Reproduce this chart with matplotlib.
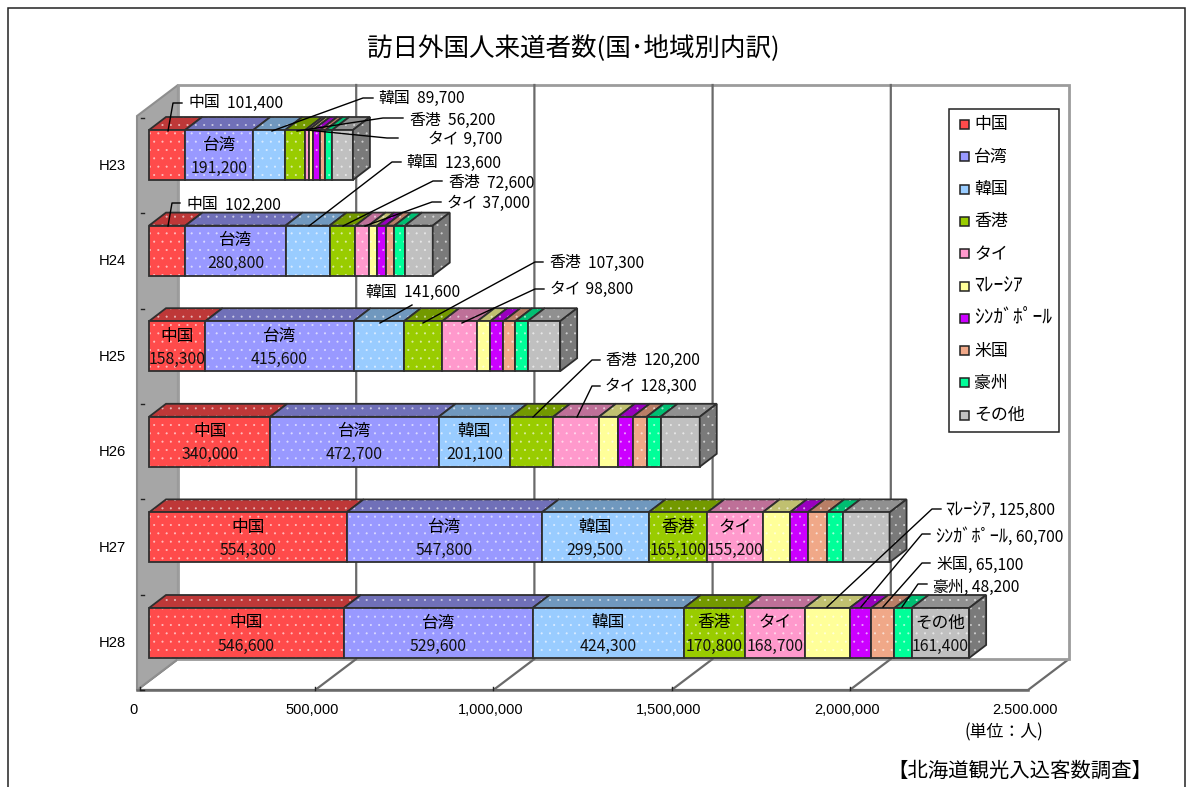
import matplotlib
matplotlib.use("Agg")
import matplotlib.pyplot as plt
from matplotlib.patches import Polygon, Rectangle

plt.rcParams["font.family"] = ["Noto Sans CJK JP", "DejaVu Sans"]
plt.rcParams["hatch.linewidth"] = 0.25

YEARS = ["H23", "H24", "H25", "H26", "H27", "H28"]
NAMES = ["中国", "台湾", "韓国", "香港", "タイ", "ﾏﾚｰｼｱ", "ｼﾝｶﾞﾎﾟｰﾙ", "米国", "豪州", "その他"]

china = [101400, 102200, 158300, 340000, 554300, 546600]
taiwan = [191200, 280800, 415600, 472700, 547800, 529600]
korea = [89700, 123600, 141600, 201100, 299500, 424300]
hongkong = [56200, 72600, 107300, 120200, 165100, 170800]
thailand = [9700, 37000, 98800, 128300, 155200, 168700]
malaysia = [12000, 24000, 36000, 53000, 76000, 125800]
singapore = [20000, 24000, 37000, 42000, 50000, 60700]
usa = [15000, 24000, 33000, 39000, 55000, 65100]
australia = [19000, 30000, 35000, 39000, 45000, 48200]
others = [58000, 78000, 91000, 110000, 130000, 161400]
SERIES = [china, taiwan, korea, hongkong, thailand, malaysia, singapore, usa, australia, others]

XTICKS = [0, 500000, 1000000, 1500000, 2000000, 2500000]
XTICK_LABELS = ["0", "500,000", "1,000,000", "1,500,000", "2,000,000", "2.500.000"]

FACE = ["#FF4B4B", "#9999FF", "#99CCFF", "#99CC00", "#FF99CC",
        "#FFFF99", "#CC00FF", "#F0A888", "#00FF99", "#C0C0C0"]
TOP = ["#BE3838", "#7070B8", "#7098BE", "#739900", "#BE7098",
       "#C0C070", "#9900BE", "#B87E66", "#00BE72", "#909090"]
SIDE = "#7A7A7A"
EDGE = "#2E2E2E"
WALL = "#A6A6A6"
GRID = "#6A6A6A"

# which series are labelled inside the bar, per year
IN_BAR = [[1], [1], [0, 1], [0, 1, 2], [0, 1, 2, 3, 4], [0, 1, 2, 3, 4, 9]]

# year, series, label x, label y, leader line points (all pixels)
CALLOUTS = [
    (0, 0, 188, 103, [(168, 131), (173, 103), (182, 103)]),
    (0, 2, 378, 98, [(272, 131), (363, 98), (373, 98)]),
    (0, 3, 409, 120, [(297, 131), (383, 118), (403, 118)]),
    (0, 4, 428, 139, [(307, 130), (387, 138), (398, 138)]),
    (1, 0, 186, 205, [(168, 226), (172, 203), (180, 203)]),
    (1, 2, 406, 163, [(309, 226), (392, 162), (401, 162)]),
    (1, 3, 448, 183, [(343, 226), (433, 181), (442, 181)]),
    (1, 4, 447, 203, [(365, 226), (432, 202), (441, 202)]),
    (2, 2, 365, 292, [(380, 323), (412, 305)]),
    (2, 3, 549, 263, [(423, 323), (535, 262), (543, 262)]),
    (2, 4, 550, 289, [(462, 323), (535, 289), (544, 289)]),
    (3, 3, 605, 360, [(533, 417), (592, 360), (600, 360)]),
    (3, 4, 605, 386, [(577, 417), (592, 386), (600, 386)]),
    (5, 5, 945, 510, [(827, 607), (932, 509), (941, 509)]),
    (5, 6, 935, 537, [(861, 607), (922, 534), (930, 534)]),
    (5, 7, 936, 565, [(883, 607), (922, 563), (930, 563)]),
    (5, 8, 932, 587, [(902, 607), (918, 584), (927, 584)]),
]

W, H = 1193, 787
X0 = 137                 # pixel of value 0 on the front of the floor
K = 178.2 / 500000       # pixels per person
DEPTH_X, DEPTH_Y = 41, 31
BAR_DX, BAR_DY = 17, 13
BAR_H = 50
ROW_TOP0, ROW_STEP = 130, 95.6

fig = plt.figure(figsize=(W / 100, H / 100), dpi=100)
ax = fig.add_axes([0, 0, 1, 1])
ax.set_xlim(-X0 / K, (W - X0) / K)
ax.set_ylim(H, 0)
ax.axis("off")


def xp(px):
    return (px - X0) / K


def pts(coords):
    return [(xp(x), y) for x, y in coords]


def face(coords, color, z):
    ax.add_patch(Polygon(pts(coords), closed=True, facecolor=color, edgecolor=(1, 1, 1, 0.6),
                         hatch="..", linewidth=0, zorder=z))
    ax.add_patch(Polygon(pts(coords), closed=True, fill=False, edgecolor=EDGE, linewidth=1.3, zorder=z))


def is_halfwidth(name):
    return name.startswith("ﾏ") or name.startswith("ｼ")


# frame
ax.add_patch(Polygon(pts([(8, H + 5), (8, 8), (1185, 8), (1185, H + 5)]), closed=False, fill=False,
                     edgecolor="#222222", linewidth=1.1, zorder=1))

# walls and floor
back = 1069
floor_y, back_y, top_y = 690, 659, 85
ax.add_patch(Polygon(pts([(X0, floor_y), (178, back_y), (back, back_y), (1028, floor_y)]),
                     closed=True, facecolor="white", edgecolor=GRID, linewidth=1.6, zorder=2))
ax.add_patch(Polygon(pts([(X0, floor_y), (X0 + DEPTH_X, back_y), (X0 + DEPTH_X, top_y), (X0, top_y + DEPTH_Y)]),
                     closed=True, facecolor=WALL, edgecolor="#8E8E8E", linewidth=1.5, zorder=2))
ax.add_patch(Polygon(pts([(178, top_y), (back, top_y), (back, back_y), (178, back_y)]),
                     closed=True, facecolor="white", edgecolor="#9C9C9C", linewidth=2, zorder=2))
ax.plot([xp(X0), xp(1028)], [floor_y, floor_y], color=GRID, lw=1.8, zorder=3)
for v in XTICKS[1:-1]:
    x = X0 + v * K
    ax.plot([v, xp(x + DEPTH_X), xp(x + DEPTH_X)], [floor_y, back_y, top_y], color=GRID, lw=1.6, zorder=3)
    ax.plot([v, v], [floor_y - 3, floor_y], color="#222222", lw=1, zorder=3)

# category ticks on the left wall
for i in range(len(YEARS) + 1):
    y = 118 + 95.3 * i
    ax.plot([xp(141), xp(144)], [y, y], color="#222222", lw=1, zorder=3)
ax.plot([xp(X0 + 3), xp(X0 + 3)], [floor_y - 3, floor_y], color="#222222", lw=1, zorder=3)

# value and category labels
for v, lab in zip(XTICKS, XTICK_LABELS):
    ax.text(v - 3 / K, 710, lab, ha="center", va="center", fontsize=10.5, family="Liberation Sans")
for i, year in enumerate(YEARS):
    ax.text(xp(112), 166 + 95.4 * i, year, ha="center", va="center", fontsize=10.6, family="Liberation Sans")

# stacked bars
for i in range(len(YEARS)):
    top = ROW_TOP0 + ROW_STEP * i
    bottom = top + BAR_H
    left = xp(149)
    for s, values in enumerate(SERIES):
        width = values[i]
        x1 = X0 + left * K
        x2 = x1 + width * K
        z = 10 + i
        face([(x1, top), (x1 + BAR_DX, top - BAR_DY), (x2 + BAR_DX, top - BAR_DY), (x2, top)], TOP[s], z)
        face([(x1, top), (x2, top), (x2, bottom), (x1, bottom)], FACE[s], z)
        if s == len(SERIES) - 1:
            face([(x2, top), (x2 + BAR_DX, top - BAR_DY), (x2 + BAR_DX, bottom - BAR_DY), (x2, bottom)], SIDE, z)
        if s in IN_BAR[i]:
            xc = left + width / 2
            ax.text(xc, top + 15, NAMES[s], ha="center", va="center", fontsize=12, zorder=30)
            ax.text(xc, top + 38, f"{width:,}", ha="center", va="center", fontsize=11.4, color="#111111", zorder=30)
        left += width

# leader lines and their labels
for year, s, tx, ty, line in CALLOUTS:
    xs = [xp(p[0]) for p in line]
    ys = [p[1] for p in line]
    ax.plot(xs, ys, color="black", lw=1, zorder=31)
    if year == 5:
        sep = ", "
    elif s == 4:
        sep = " "
    else:
        sep = "  "
    size = 13.2 if is_halfwidth(NAMES[s]) else 11.4
    name = ax.text(xp(tx), ty, NAMES[s], ha="left", va="center", fontsize=size, zorder=31)
    ax.annotate(f"{sep}{SERIES[s][year]:,}", xy=(1, 0.5), xycoords=name, ha="left", va="center",
                fontsize=11.2, zorder=31)

# legend
ax.add_patch(Polygon(pts([(949, 109), (1059, 109), (1059, 432), (949, 432)]), closed=True,
                     facecolor="white", edgecolor="#222222", linewidth=1.1, zorder=32))
for s, name in enumerate(NAMES):
    y = 124.5 + 32.3 * s
    ax.add_patch(Rectangle((xp(960), y - 4.5), 9 / K, 9, facecolor=FACE[s], edgecolor="#222222",
                           linewidth=1.1, zorder=33))
    size = 14 if is_halfwidth(name) else 12.2
    ax.text(xp(974), y, name, ha="left", va="center", fontsize=size, zorder=33)

# titles
ax.text(xp(573.5), 49, "訪日外国人来道者数(国･地域別内訳)", ha="center", va="center", fontsize=18.4)
ax.text(xp(1004), 732, "(単位：人)", ha="center", va="center", fontsize=12.2)
ax.text(xp(1020), 771, "【北海道観光入込客数調査】", ha="center", va="center", fontsize=14.7)

fig.savefig("out.png", dpi=100)
